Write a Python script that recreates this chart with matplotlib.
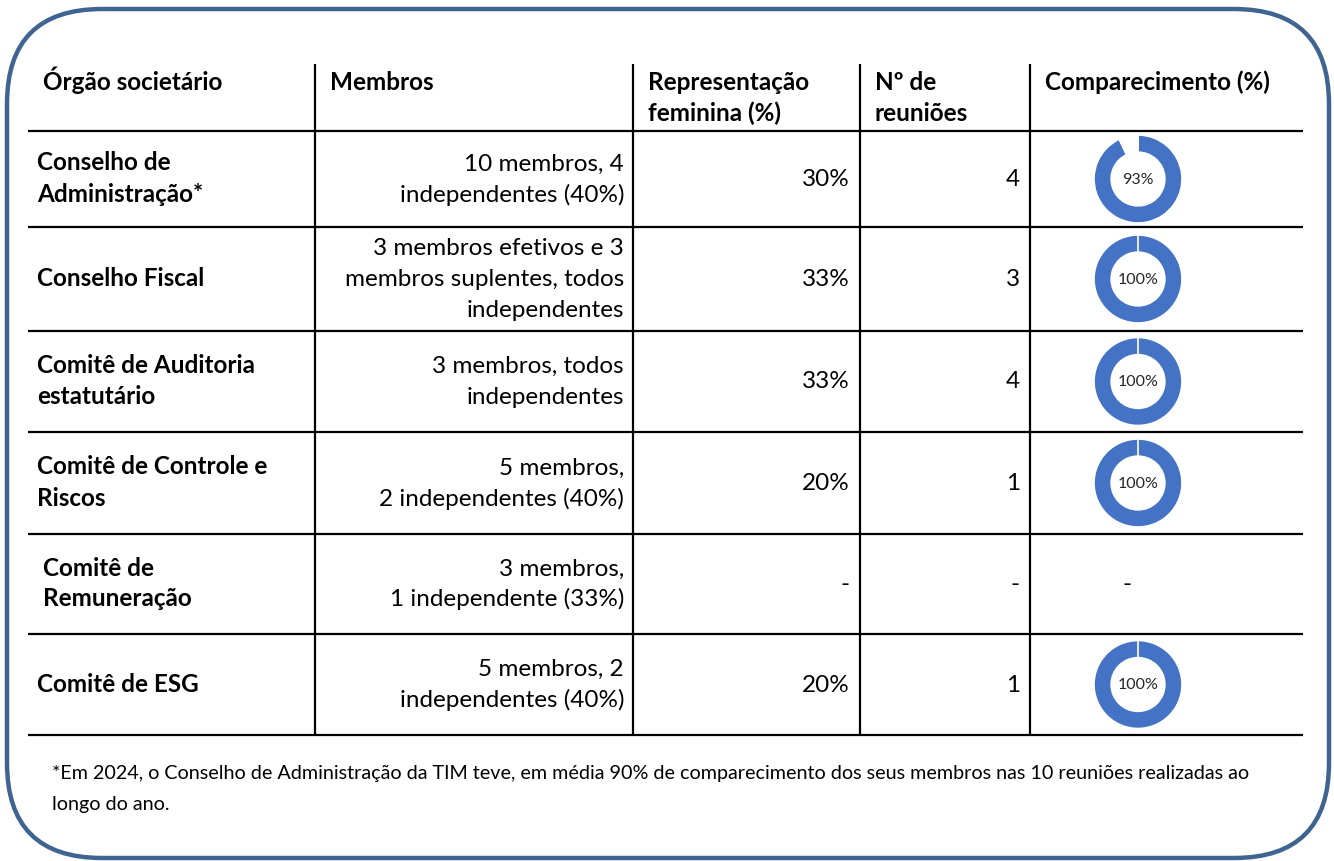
import matplotlib
matplotlib.use("Agg")
import matplotlib.pyplot as plt
from matplotlib.patches import FancyBboxPatch

# ==============================================================
# DADOS
# ==============================================================
cabecalhos = ["Órgão societário", "Membros", "Representação\nfeminina (%)",
              "Nº de\nreuniões", "Comparecimento (%)"]

orgaos = ["Conselho de\nAdministração*",
          "Conselho Fiscal",
          "Comitê de Auditoria\nestatutário",
          "Comitê de Controle e\nRiscos",
          "Comitê de\nRemuneração",
          "Comitê de ESG"]

membros = ["10 membros, 4\nindependentes (40%)",
           "3 membros efetivos e 3\nmembros suplentes, todos\nindependentes",
           "3 membros, todos\nindependentes",
           "5 membros,\n2 independentes (40%)",
           "3 membros,\n1 independente (33%)",
           "5 membros, 2\nindependentes (40%)"]

representacao_feminina = ["30%", "33%", "33%", "20%", "-", "20%"]
reunioes = ["4", "3", "4", "1", "-", "1"]
comparecimento = [93, 100, 100, 100, None, 100]

nota = ["*Em 2024, o Conselho de Administração da TIM teve, em média 90% de comparecimento "
        "dos seus membros nas 10 reuniões realizadas ao",
        "longo do ano."]

# ==============================================================
# LAYOUT (pixels)
# ==============================================================
W, H = 1334, 861
FONTE = "Lato"
TAM = 17.5
AZUL = "#4472C4"
BORDA = "#3F6492"
ENTRELINHA = 31

linhas_y = [131, 227, 331, 432, 534, 634, 735]   # separadores horizontais
colunas_x = [315, 633, 860, 1030]                 # separadores verticais
x_esq, x_dir = 28, 1303
y_topo = 64

fig = plt.figure(figsize=(W / 100, H / 100), dpi=100)
ax = fig.add_axes([0, 0, 1, 1])
ax.set_xlim(0, W)
ax.set_ylim(H, 0)
ax.axis("off")

# moldura arredondada
moldura = FancyBboxPatch((7, 9), 1322, 849,
                         boxstyle="round,pad=0,rounding_size=95",
                         fill=False, edgecolor=BORDA, linewidth=3.2)
ax.add_patch(moldura)

# linhas da tabela
for y in linhas_y:
    ax.plot([x_esq, x_dir], [y, y], color="black", lw=1.6, solid_capstyle="butt")
for x in colunas_x:
    ax.plot([x, x], [y_topo, linhas_y[-1]], color="black", lw=1.6, solid_capstyle="butt")


def bloco(x, yc, txt, ha="left", peso="normal"):
    # escreve linha a linha, centrando o bloco verticalmente em yc
    partes = txt.split("\n")
    n = len(partes)
    for k, p in enumerate(partes):
        yb = yc + (k - (n - 1) / 2) * ENTRELINHA + 7
        ax.text(x, yb, p, ha=ha, va="baseline", fontsize=TAM,
                fontweight=peso, family=FONTE)


# cabeçalho
pos_cab = [43, 330, 648, 875, 1045]
for x, txt in zip(pos_cab, cabecalhos):
    for k, p in enumerate(txt.split("\n")):
        ax.text(x, 90 + k * ENTRELINHA, p, ha="left", va="baseline",
                fontsize=TAM, fontweight="bold", family=FONTE)

# corpo
for i in range(len(orgaos)):
    yc = (linhas_y[i] + linhas_y[i + 1]) / 2
    x0 = 43 if i == 4 else 37
    bloco(x0, yc, orgaos[i], peso="bold")
    bloco(624, yc, membros[i], ha="right")
    bloco(850, yc, representacao_feminina[i], ha="right")
    bloco(1020, yc, reunioes[i], ha="right")

    pct = comparecimento[i]
    if pct is None:
        bloco(1127, yc, "-", ha="center")
        continue

    # donut em eixo próprio (fundo branco cobre as linhas)
    bw, bh = 96, 98
    cx = 1138
    axd = fig.add_axes([(cx - bw / 2) / W, 1 - (yc + bh / 2) / H, bw / W, bh / H])
    axd.pie([pct, 100 - pct], colors=[AZUL, "white"], startangle=90,
            counterclock=False, radius=1,
            wedgeprops=dict(width=0.39, edgecolor="white", linewidth=1.2))
    r = 44
    axd.set_xlim(-bw / 2 / r, bw / 2 / r)
    axd.set_ylim(-bh / 2 / r, bh / 2 / r)
    axd.set_aspect("auto")
    axd.set_facecolor("white")
    axd.patch.set_visible(True)
    axd.text(0, -0.02, f"{pct}%", ha="center", va="center", fontsize=11.5,
             color="#262626", family=FONTE)
    axd.set_xticks([])
    axd.set_yticks([])
    for s in axd.spines.values():
        s.set_visible(False)

# nota de rodapé
for k, p in enumerate(nota):
    ax.text(52, 779 + k * 31, p, ha="left", va="baseline", fontsize=14.2,
            family=FONTE)

fig.savefig("out.png", dpi=100)
